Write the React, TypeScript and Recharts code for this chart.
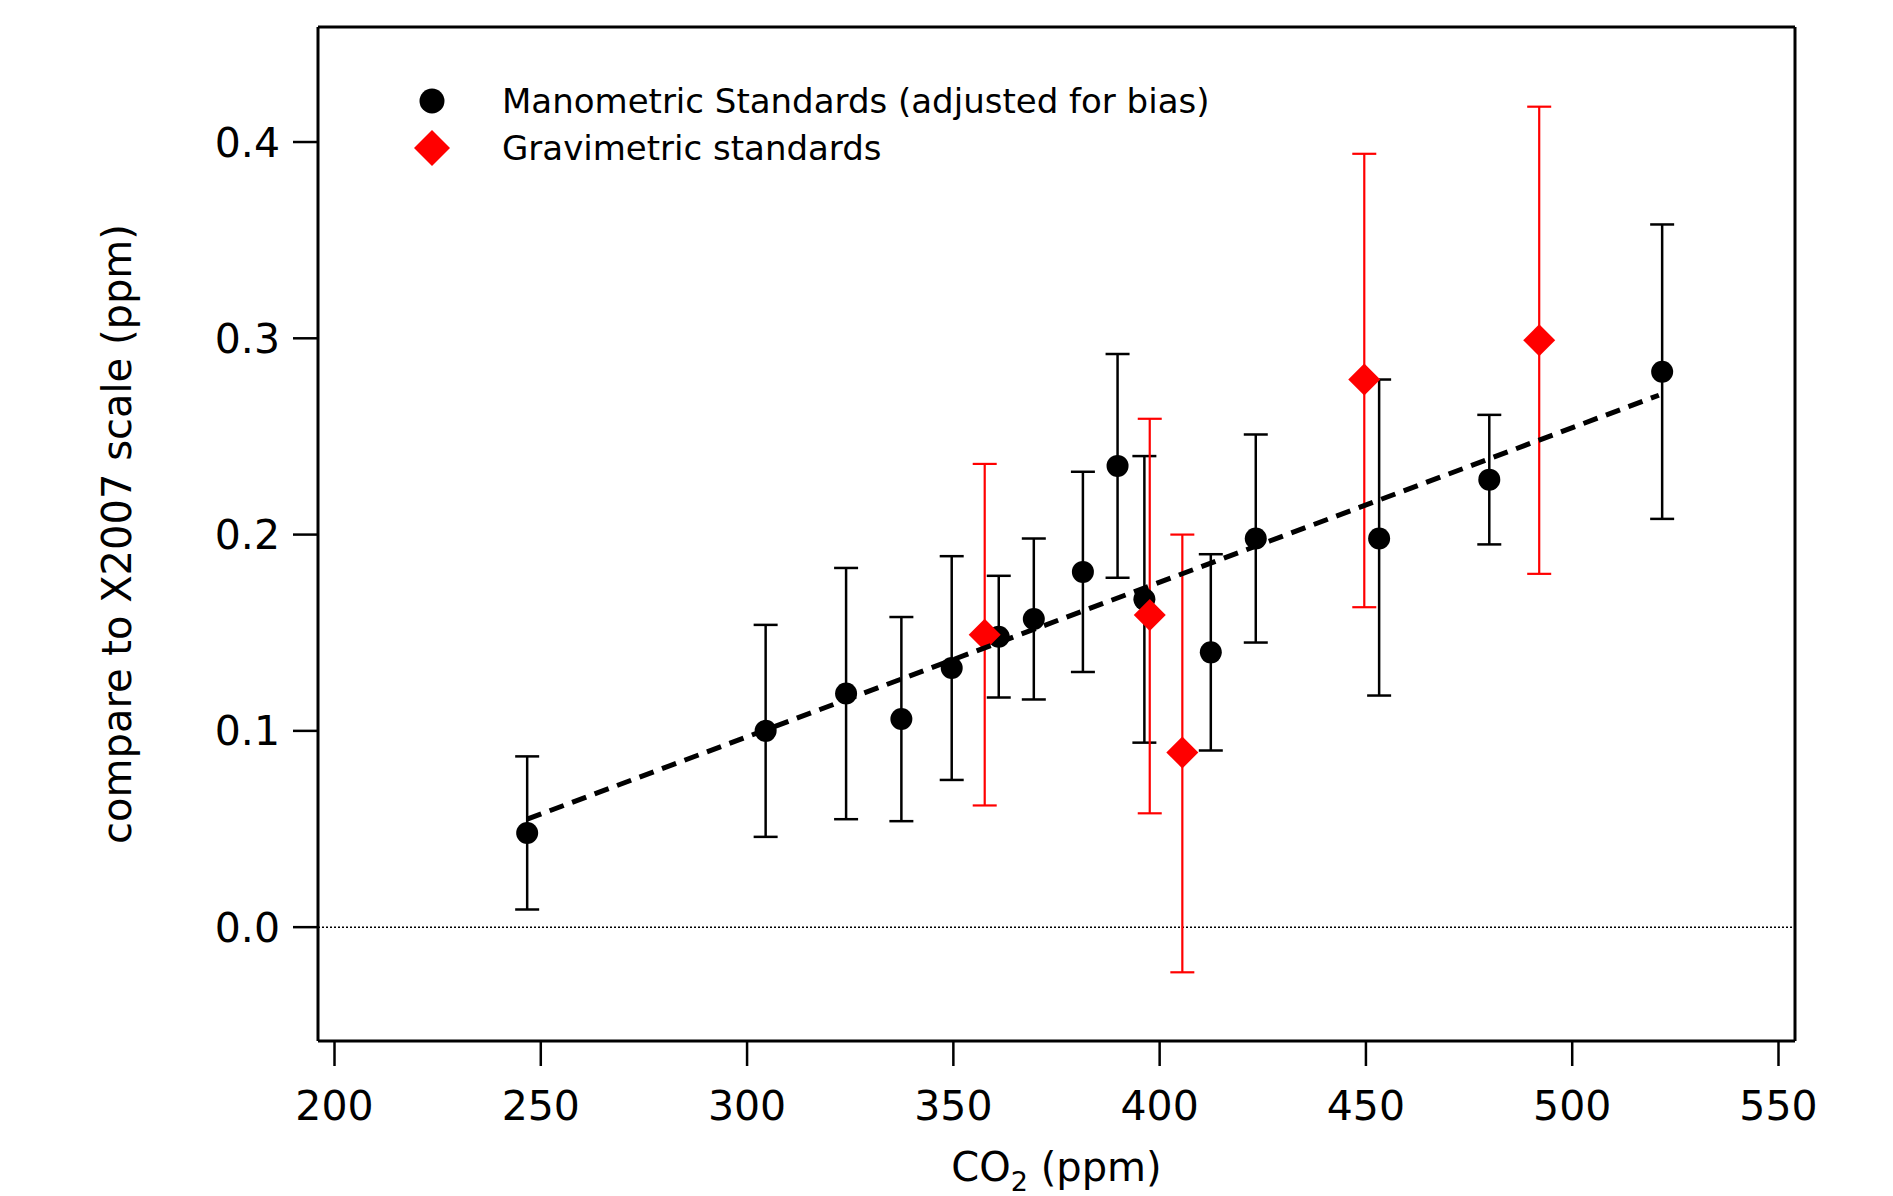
import {
  ScatterChart, Scatter, XAxis, YAxis, ErrorBar, ReferenceLine, Legend, Label,
} from 'recharts'

// manometric standards (adjusted for bias)
const manoCo2 = [246.7, 304.5, 324.0, 337.4, 349.6, 361.0, 369.5, 381.4, 389.8, 396.3, 412.4, 423.3, 453.2, 479.9, 521.8]
const manoDiff = [0.048, 0.100, 0.119, 0.106, 0.132, 0.148, 0.157, 0.181, 0.235, 0.167, 0.140, 0.198, 0.198, 0.228, 0.283]
const manoLow = [0.009, 0.046, 0.055, 0.054, 0.075, 0.117, 0.116, 0.130, 0.178, 0.094, 0.090, 0.145, 0.118, 0.195, 0.208]
const manoHigh = [0.087, 0.154, 0.183, 0.158, 0.189, 0.179, 0.198, 0.232, 0.292, 0.240, 0.190, 0.251, 0.279, 0.261, 0.358]

// gravimetric standards
const gravCo2 = [357.6, 397.6, 405.5, 449.6, 492.0]
const gravDiff = [0.149, 0.159, 0.089, 0.279, 0.299]
const gravLow = [0.062, 0.058, -0.023, 0.163, 0.180]
const gravHigh = [0.236, 0.259, 0.200, 0.394, 0.418]

// linear fit end points
const fitCo2 = [246.7, 521.0]
const fitDiff = [0.055, 0.271]

const xTicks = [200, 250, 300, 350, 400, 450, 500, 550]
const yTicks = [0, 0.1, 0.2, 0.3, 0.4]
const xDomain = [196, 554]
const yDomain = [-0.058, 0.4586]

const manoData = manoCo2.map((x, i) => ({ x, y: manoDiff[i], err: [manoDiff[i] - manoLow[i], manoHigh[i] - manoDiff[i]] }))
const gravData = gravCo2.map((x, i) => ({ x, y: gravDiff[i], err: [gravDiff[i] - gravLow[i], gravHigh[i] - gravDiff[i]] }))
const fitData = fitCo2.map((x, i) => ({ x, y: fitDiff[i] }))

const FONT = '"DejaVu Sans", sans-serif'

const Dot = (p: any) => <circle cx={p.cx} cy={p.cy} r={11} fill="#000" />
const Diamond = (p: any) => {
  const s = 16
  return <polygon points={`${p.cx},${p.cy - s} ${p.cx + s},${p.cy} ${p.cx},${p.cy + s} ${p.cx - s},${p.cy}`} fill="#ff0000" />
}

function LegendBox() {
  const row = { display: 'flex', alignItems: 'center', height: 47 } as const
  return (
    <div style={{ fontSize: 34, color: '#000', fontFamily: FONT, whiteSpace: 'nowrap' }}>
      <div style={row}>
        <svg width={36} height={36}><circle cx={18} cy={18} r={12.5} fill="#000" /></svg>
        <span style={{ marginLeft: 52 }}>Manometric Standards (adjusted for bias)</span>
      </div>
      <div style={row}>
        <svg width={36} height={36}><polygon points="18,0 36,18 18,36 0,18" fill="#ff0000" /></svg>
        <span style={{ marginLeft: 52 }}>Gravimetric standards</span>
      </div>
    </div>
  )
}

export default function App() {
  return (
    <div style={{ position: 'absolute', left: 0, top: 0, background: '#fff', fontFamily: FONT }}>
      <ScatterChart width={1893} height={1196} margin={{ top: 27, right: 98, bottom: 5, left: 58 }} style={{ fontFamily: FONT }}>
        <XAxis
          type="number" dataKey="x" domain={xDomain} ticks={xTicks} interval={0} allowDataOverflow
          height={150} tickSize={25} tickMargin={25}
          tick={{ fontSize: 41, fill: '#000' }}
          axisLine={{ stroke: '#000', strokeWidth: 3 }} tickLine={{ stroke: '#000', strokeWidth: 2.5 }}
        >
          <Label content={(props: any) => {
            const vb = props.viewBox
            return (
              <text x={vb.x + vb.width / 2} y={vb.y + 140} textAnchor="middle" fontSize={40} fill="#000" fontFamily={FONT}>
                CO<tspan fontSize={27} dy={10}>2</tspan><tspan dy={-10}> (ppm)</tspan>
              </text>
            )
          }} />
        </XAxis>
        <YAxis
          type="number" dataKey="y" domain={yDomain} ticks={yTicks} interval={0} allowDataOverflow
          width={260} tickSize={25} tickMargin={13}
          tickFormatter={(v) => Number(v).toFixed(1)}
          tick={{ fontSize: 41, fill: '#000' }}
          axisLine={{ stroke: '#000', strokeWidth: 3 }} tickLine={{ stroke: '#000', strokeWidth: 2.5 }}
        >
          <Label content={(props: any) => {
            const vb = props.viewBox
            const cx = vb.x + 59
            const cy = vb.y + vb.height / 2
            return (
              <text x={cx} y={cy} transform={`rotate(-90, ${cx}, ${cy})`} textAnchor="middle" dominantBaseline="central"
                fontSize={40} fill="#000" fontFamily={FONT}>
                compare to X2007 scale (ppm)
              </text>
            )
          }} />
        </YAxis>

        {/* top and right edges of the plot frame */}
        <ReferenceLine y={yDomain[1]} stroke="#000" strokeWidth={3} ifOverflow="extendDomain" />
        <ReferenceLine x={xDomain[1]} stroke="#000" strokeWidth={3} ifOverflow="extendDomain" />
        <ReferenceLine y={0} stroke="#000" strokeWidth={1.5} strokeDasharray="2 2" />

        <Legend layout="horizontal" verticalAlign="middle" align="center" content={() => <LegendBox />}
          wrapperStyle={{ left: 414, top: 77, width: 'auto', height: 'auto' }} />

        <Scatter name="Manometric Standards (adjusted for bias)" data={manoData} fill="#000" shape={Dot} isAnimationActive={false}>
          <ErrorBar dataKey="err" direction="y" width={12} stroke="#000" strokeWidth={2.5} isAnimationActive={false} />
        </Scatter>
        <Scatter name="Gravimetric standards" data={gravData} fill="#ff0000" shape={Diamond} isAnimationActive={false}>
          <ErrorBar dataKey="err" direction="y" width={12} stroke="#ff0000" strokeWidth={2.2} isAnimationActive={false} />
        </Scatter>
        <Scatter name="fit" data={fitData} legendType="none" shape={() => <g />} isAnimationActive={false}
          line={{ stroke: '#000', strokeWidth: 5, strokeDasharray: '15 9' }} />
      </ScatterChart>
    </div>
  )
}
